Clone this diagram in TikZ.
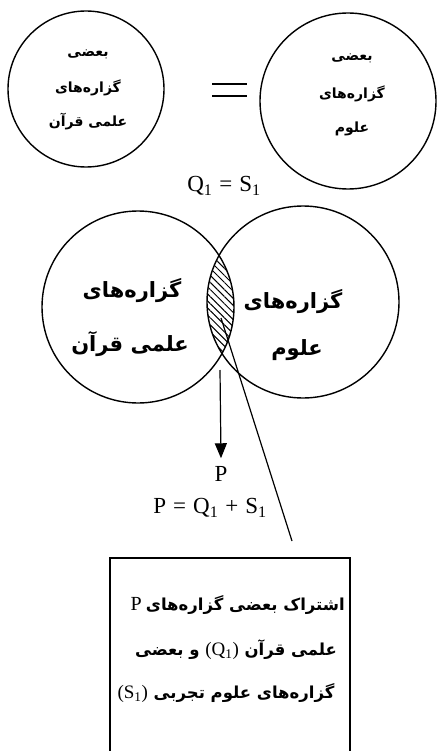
\documentclass[tikz,border=0pt]{standalone}
\usepackage{fontspec}
\setmainfont{Liberation Serif}
\newfontfamily\fa[Script=Arabic]{DejaVu Sans Bold}
\TeXXeTstate=1
\usetikzlibrary{patterns.meta,arrows.meta}
\newcommand\fat[1]{{\fa\beginR #1\endR}}
\begin{document}
\begin{tikzpicture}[x=1pt,y=1pt,
  ring/.style={circle,draw,line width=1.4pt,inner sep=0pt},
  smallfa/.style={font=\fontsize{14}{16}\selectfont,inner sep=0pt},
  bigfa/.style={font=\fontsize{21}{24}\selectfont,inner sep=0pt},
  boxfa/.style={font=\fontsize{16.5}{19}\selectfont,inner sep=0pt},
  latin/.style={font=\fontsize{23}{25}\selectfont,inner sep=0pt},
  edge/.style={line width=1.2pt}]
\useasboundingbox (0,0) rectangle (437,-751);
% top circles
\node[ring,minimum size=156pt] (ql) at (86,-89) {};
\node[ring,minimum size=176pt] (sr) at (348,-101) {};
\node[smallfa] (ql1) at (88,-54) {\fat{بعضی}};
\node[smallfa] (ql2) at (88,-88) {\fat{گزاره‌های}};
\node[smallfa] (ql3) at (88,-122) {\fat{علمی قرآن}};
\node[smallfa] (sr1) at (352,-58) {\fat{بعضی}};
\node[smallfa] (sr2) at (352,-94) {\fat{گزاره‌های}};
\node[smallfa] (sr3) at (352,-129) {\fat{علوم}};
\coordinate (e1a) at (212,-84); \coordinate (e1b) at (247,-84);
\coordinate (e2a) at (212,-96); \coordinate (e2b) at (247,-96);
\draw[line width=2.2pt] (e1a) -- (e1b);
\draw[line width=2.2pt] (e2a) -- (e2b);
\node[latin] (eq1) at (224,-186) {Q\textsubscript{1}\hspace{7pt}=\hspace{7pt}S\textsubscript{1}};
% venn
\coordinate (vl) at (138,-307);
\coordinate (vr) at (303,-302);
\begin{scope}
  \clip (vl) circle (96);
  \fill[pattern={Lines[angle=-45,distance=5pt,line width=1pt]}] (vr) circle (96);
\end{scope}
\node[ring,minimum size=192pt] (vln) at (vl) {};
\node[ring,minimum size=192pt] (vrn) at (vr) {};
\node[bigfa] (vl1) at (132,-291) {\fat{گزاره‌های}};
\node[bigfa] (vl2) at (130,-344) {\fat{علمی قرآن}};
\node[bigfa] (vr1) at (293,-302) {\fat{گزاره‌های}};
\node[bigfa] (vr2) at (297,-350) {\fat{علوم}};
% arrow and P
\coordinate (a0) at (220,-370);
\node[latin] (P) at (221,-474) {P};
\draw[edge,-{Triangle[length=15pt,width=12pt]}] (a0) -- ([yshift=8pt]P.north);
\node[latin] (eq2) at (210,-508) {P\hspace{7pt}=\hspace{7pt}Q\textsubscript{1}\hspace{7pt}+\hspace{7pt}S\textsubscript{1}};
\coordinate (d0) at (221,-318);
\coordinate (d1) at (292,-541);
\draw[edge] (d0) -- (d1);
% box
\coordinate (b1) at (110,-752); \coordinate (b2) at (110,-558);
\coordinate (b3) at (350,-558); \coordinate (b4) at (350,-752);
\draw[line width=1.4pt] (b1) -- (b2) -- (b3) -- (b4);
\node[boxfa,anchor=east] (t1) at (345,-605) {{\fontsize{20}{22}\selectfont P} \fat{اشتراک بعضی گزاره‌های}};
\node[boxfa] (t2) at (236,-650) {\fat{علمی قرآن \beginL{\rmfamily\fontsize{19}{21}\selectfont(Q\textsubscript{1})}\endL{} و بعضی}};
\node[boxfa] (t3) at (226,-693) {\fat{گزاره‌های علوم تجربی \beginL{\rmfamily\fontsize{19}{21}\selectfont(S\textsubscript{1})}\endL{}}};
\end{tikzpicture}
\end{document}
